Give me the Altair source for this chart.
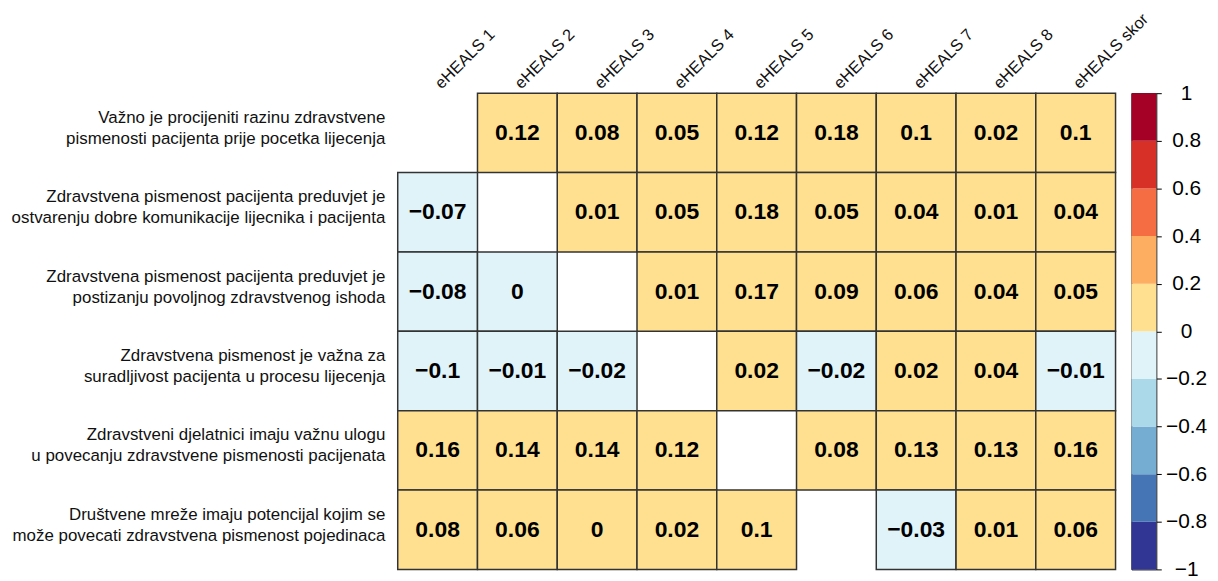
import altair as alt
import pandas as pd

cols = ["eHEALS 1", "eHEALS 2", "eHEALS 3", "eHEALS 4", "eHEALS 5",
        "eHEALS 6", "eHEALS 7", "eHEALS 8", "eHEALS skor"]

rows = [
    "Važno je procijeniti razinu zdravstvene|pismenosti pacijenta prije pocetka lijecenja",
    "Zdravstvena pismenost pacijenta preduvjet je|ostvarenju dobre komunikacije lijecnika i pacijenta",
    "Zdravstvena pismenost pacijenta preduvjet je|postizanju povoljnog zdravstvenog ishoda",
    "Zdravstvena pismenost je važna za|suradljivost pacijenta u procesu lijecenja",
    "Zdravstveni djelatnici imaju važnu ulogu|u povecanju zdravstvene pismenosti pacijenata",
    "Društvene mreže imaju potencijal kojim se|može povecati zdravstvena pismenost pojedinaca",
]

row1 = [None, 0.12, 0.08, 0.05, 0.12, 0.18, 0.1, 0.02, 0.1]
row2 = [-0.07, None, 0.01, 0.05, 0.18, 0.05, 0.04, 0.01, 0.04]
row3 = [-0.08, -0.004, None, 0.01, 0.17, 0.09, 0.06, 0.04, 0.05]
row4 = [-0.1, -0.01, -0.02, None, 0.02, -0.02, 0.02, 0.04, -0.01]
row5 = [0.16, 0.14, 0.14, 0.12, None, 0.08, 0.13, 0.13, 0.16]
row6 = [0.08, 0.06, 0.0, 0.02, 0.1, None, -0.03, 0.01, 0.06]
values = [row1, row2, row3, row4, row5, row6]

bin_edges = [-1, -0.8, -0.6, -0.4, -0.2, 0, 0.2, 0.4, 0.6, 0.8, 1]
palette = ["#313695", "#4575B4", "#74ADD1", "#ABD9E9", "#E0F3F8",
           "#FEE090", "#FDAE61", "#F46D43", "#D73027", "#A50026"]
bar_ticks = [-1, -0.8, -0.6, -0.4, -0.2, 0, 0.2, 0.4, 0.6, 0.8, 1]


def fmt(v):
    s = f"{round(v, 2):g}"
    if s in ("-0", "0"):
        s = "0"
    return s.replace("-", "\u2212")


recs = []
for r, vals in zip(rows, values):
    for c, v in zip(cols, vals):
        if v is None:
            continue
        recs.append({"row": r, "col": c, "value": v, "label": fmt(v)})
df = pd.DataFrame(recs)

color_scale = alt.Scale(type="threshold", domain=bin_edges[1:-1], range=palette)

base = alt.Chart(df).encode(
    x=alt.X("col:N", sort=cols, title=None,
            scale=alt.Scale(paddingInner=0, paddingOuter=0),
            axis=alt.Axis(orient="top", labelAngle=-45, labelAlign="left",
                          labelBaseline="alphabetic", labelPadding=4, ticks=False,
                          tickSize=0, domain=False, labelFontSize=16.5,
                          labelOffset=4,
                          labelColor="#111111", labelLimit=300)),
    y=alt.Y("row:N", sort=rows, title=None,
            scale=alt.Scale(paddingInner=0, paddingOuter=0),
            axis=alt.Axis(labelExpr="split(datum.label, '|')", labelLineHeight=21,
                          labelAlign="right", labelPadding=13, ticks=False,
                          tickSize=0, domain=False, labelFontSize=17,
                          labelOffset=-15,
                          labelColor="#111111", labelLimit=600)),
)

cells = base.mark_rect(stroke="#333333", strokeWidth=1.5).encode(
    color=alt.Color("value:Q", scale=color_scale, legend=None)
)
texts = base.mark_text(fontSize=23, fontWeight="bold", color="black").encode(
    text="label:N"
)
heat = (cells + texts).properties(width=722, height=479)

bar_df = pd.DataFrame({"lo": bin_edges[:-1], "hi": bin_edges[1:]})
bar = alt.Chart(bar_df).mark_rect().encode(
    x=alt.value(0), x2=alt.value(25),
    y=alt.Y("lo:Q", scale=alt.Scale(domain=[-1, 1], nice=False, zero=False),
            title=None,
            axis=alt.Axis(orient="right", values=bar_ticks, format="~g",
                          labelAlign="center", labelPadding=25, tickSize=5,
                          tickColor="black", domain=False, grid=False,
                          labelFontSize=21, labelColor="black",
                          labelFlush=False, labelOverlap=False)),
    y2="hi:Q",
    color=alt.Color("lo:Q", scale=alt.Scale(type="threshold",
                                             domain=bin_edges[1:-1], range=palette),
                    legend=None),
).properties(width=25, height=479,
             view=alt.ViewBackground(stroke="black", strokeWidth=1))

chart = alt.hconcat(heat, bar, spacing=16, bounds="flush").properties(
    padding={"top": 0, "left": 2, "right": 2, "bottom": 2}
).configure(
    font="Liberation Sans"
).configure_view(stroke=None).resolve_scale(color="independent")

chart.save("out.html", embed_options={"renderer": "svg", "actions": False})
